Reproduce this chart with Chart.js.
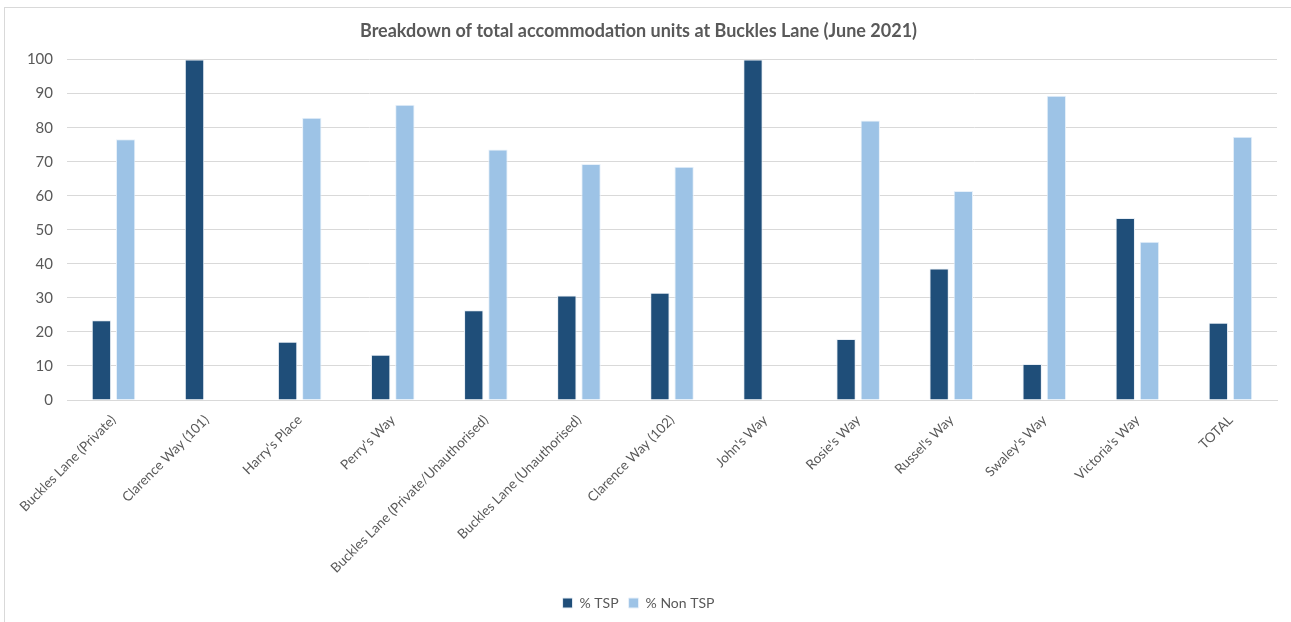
<!DOCTYPE html>
<html>
<head>
<meta charset="utf-8">
<script src="https://cdn.jsdelivr.net/npm/chart.js@4"></script>
<style>
  html, body { margin: 0; padding: 0; background: #fff; overflow: hidden; }
  #frame { position: absolute; left: 4px; top: 7px; width: 1300px; height: 640px; border: 1px solid #d9d9d9; }
  #wrap { position: absolute; left: 0; top: 0; width: 1291px; height: 622px; }
</style>
</head>
<body>
<div id="frame"></div>
<div id="wrap"><canvas id="myBarChart"></canvas></div>
<script>
// bar chart - accommodation units

let sites = ["Buckles Lane (Private)", "Clarence Way (101)", "Harry's Place", "Perry's Way",
  "Buckles Lane (Private/Unauthorised)", "Buckles Lane (Unauthorised)", "Clarence Way (102)",
  "John's Way", "Rosie's Way", "Russel's Way", "Swaley's Way", "Victoria's Way", "TOTAL"];
let tsp    = [23.4, 100, 17.1, 13.3, 26.4, 30.7, 31.5, 100, 17.9, 38.6, 10.6, 53.5, 22.7];
let nonTsp = [76.6, 0, 82.9, 86.7, 73.6, 69.3, 68.5, 0, 82.1, 61.4, 89.4, 46.5, 77.3];
let yTicks = [0, 10, 20, 30, 40, 50, 60, 70, 80, 90, 100];

let grey = "#595959";
let fontName = "Lato, 'Open Sans', sans-serif";

const chartData = {
  type: "bar",
  data: {
    labels: sites,
    datasets: [
      {
        label: "% TSP",
        backgroundColor: "#1f4e79",
        borderColor: "#e8eef5",
        borderWidth: 1,
        data: tsp
      },
      {
        label: "% Non TSP",
        backgroundColor: "#9dc3e6",
        borderColor: "#e8f1fa",
        borderWidth: 1,
        data: nonTsp
      }
    ]
  },
  options: {
    responsive: true,
    maintainAspectRatio: false,
    animation: false,
    layout: { padding: { top: 12, right: 14, left: 0, bottom: 2 } },
    datasets: { bar: { categoryPercentage: 0.52, barPercentage: 0.8 } },
    plugins: {
      title: {
        display: true,
        text: "Breakdown of total accommodation units at Buckles Lane (June 2021)",
        color: grey,
        font: { family: fontName, size: 18, weight: "bold" },
        padding: { top: 8, bottom: 18 }
      },
      legend: {
        position: "bottom",
        labels: {
          color: grey,
          font: { family: fontName, size: 14 },
          boxWidth: 10,
          boxHeight: 10,
          padding: 10
        }
      },
      tooltip: { enabled: false }
    },
    scales: {
      x: {
        grid: { display: false },
        border: { display: true, color: "#d9d9d9", width: 1 },
        ticks: {
          color: grey,
          font: { family: fontName, size: 13.5 },
          minRotation: 45,
          maxRotation: 45,
          autoSkip: false,
          padding: 4
        },
        afterFit: function (scale) { scale.height = 186; }
      },
      y: {
        min: 0,
        max: 100,
        afterBuildTicks: function (scale) { scale.ticks = yTicks.map(v => ({ value: v })); },
        grid: { color: "#d9d9d9", drawTicks: false },
        border: { display: false },
        ticks: {
          color: grey,
          font: { family: fontName, size: 15 },
          padding: 14
        },
        afterFit: function (scale) { scale.width = 67; }
      }
    }
  }
};

let barChart = new Chart("myBarChart", chartData);
</script>
</body>
</html>
